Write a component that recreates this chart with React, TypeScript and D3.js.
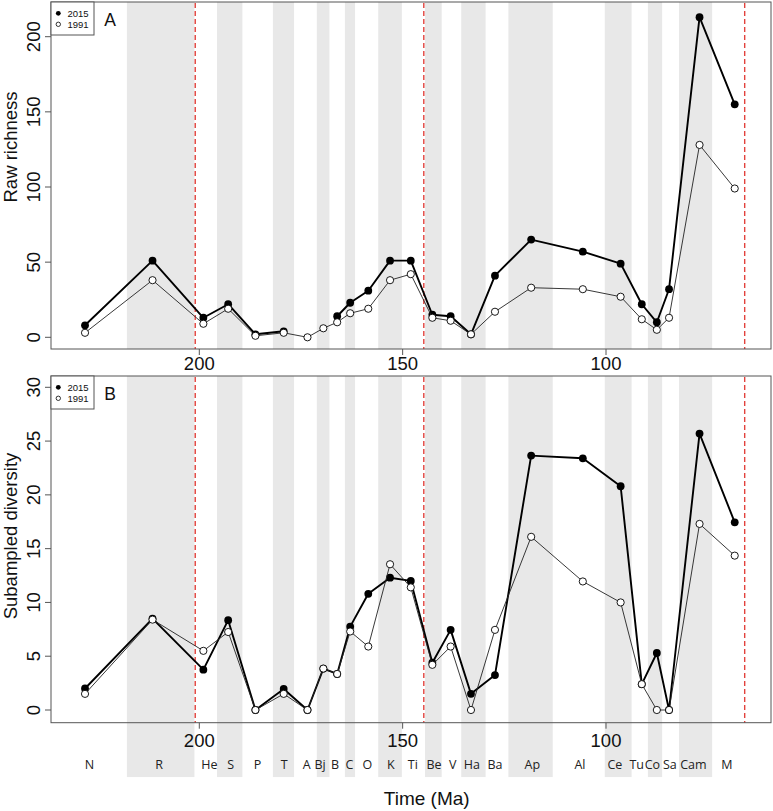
import React from 'react';
import * as d3 from 'd3';

const stages = ['N', 'R', 'He', 'S', 'P', 'T', 'A', 'Bj', 'B', 'C', 'O', 'K', 'Ti', 'Be', 'V', 'Ha', 'Ba', 'Ap', 'Al', 'Ce', 'Tu', 'Co', 'Sa', 'Cam', 'M'];
// age (Ma) at which each stage's data point is plotted
const pointAges = [228.1, 211.5, 199.0, 192.9, 186.2, 179.25, 173.4, 169.5, 166.1, 162.9, 158.45, 153.1, 148.0, 142.7, 138.2, 133.2, 127.3, 118.4, 105.7, 96.4, 91.2, 87.5, 84.5, 77.0, 68.35];
// age (Ma) at which each stage label is written
const labelAges = [227.0, 209.9, 197.5, 192.3, 185.7, 179.1, 173.6, 170.3, 166.6, 163.1, 158.7, 152.9, 147.5, 142.3, 137.7, 133.0, 127.3, 118.1, 106.4, 97.8, 92.45, 88.6, 84.3, 78.5, 70.3];
// boundaries between consecutive stages (Ma)
const stageBounds = [217.8, 201.2, 195.65, 189.4, 181.9, 176.7, 171.1, 168.0, 164.2, 161.7, 156.0, 150.2, 144.5, 140.4, 135.6, 129.6, 124.0, 113.1, 100.3, 93.7, 89.7, 86.2, 82.05, 73.9];
// mass-extinction boundaries (Ma)
const extinctionAges = [201.0, 144.8, 65.9];

const raw2015 = [8, 51, 13, 22, 2, 4, null, null, 14, 23, 31, 51, 51, 15, 14, 2, 41, 65, 57, 49, 22, 10, 32, 213, 155];
const raw1991 = [3, 38, 9, 19, 1, 3, 0, 6, 10, 16, 19, 38, 42, 13, 11, 2, 17, 33, 32, 27, 12, 5, 13, 128, 99];
const sub2015 = [2.0, 8.5, 3.75, 8.35, 0, 1.95, 0, 3.85, 3.35, 7.75, 10.8, 12.3, 12.0, 4.4, 7.45, 1.5, 3.25, 23.65, 23.4, 20.8, 2.4, 5.3, 0, 25.7, 17.45];
const sub1991 = [1.5, 8.4, 5.5, 7.25, 0, 1.5, 0, 3.85, 3.35, 7.3, 5.9, 13.55, 11.4, 4.2, 5.9, 0, 7.45, 16.1, 11.95, 10.0, 2.4, 0, 0, 17.3, 14.35];

const rawTicks = [0, 50, 100, 150, 200];
const subTicks = [0, 5, 10, 15, 20, 25, 30];
const timeTicks = [200, 150, 100];
const seriesNames = ['2015', '1991'];

const W = 773;
const H = 811;
const LEFT = 51;
const RIGHT = 771;
const FONT = '"Liberation Sans", Arial, Helvetica, sans-serif';
const BAND = '#e8e8e8';
const RED = '#e2423d';
const BOX = '#555';

const x = d3.scaleLinear().domain([200, 100]).range([199.3, 606]);

type PanelProps = {
  top: number;
  bottom: number;
  bandBottom: number;
  y: d3.ScaleLinear<number, number>;
  ticks: number[];
  s2015: (number | null)[];
  s1991: (number | null)[];
  title: string;
  titleY: number;
  letter: string;
  tickLabelBaseline: number;
};

function Panel(p: PanelProps) {
  const pts = (arr: (number | null)[]) => arr.map((v, i) => ({ t: pointAges[i], v }));
  const line = d3
    .line<{ t: number; v: number | null }>()
    .defined((d) => d.v != null)
    .x((d) => x(d.t))
    .y((d) => p.y(d.v as number));
  const d15 = pts(p.s2015);
  const d91 = pts(p.s1991);
  const clipId = 'clip' + p.letter;
  return (
    <g>
      <defs>
        <clipPath id={clipId}>
          <rect x={LEFT} y={p.top} width={RIGHT - LEFT} height={p.bandBottom - p.top} />
        </clipPath>
      </defs>
      <g clipPath={`url(#${clipId})`}>
        {stages.map((s, i) =>
          i % 2 === 1 ? (
            <rect
              key={s}
              x={x(stageBounds[i - 1])}
              y={p.top}
              width={x(stageBounds[i]) - x(stageBounds[i - 1])}
              height={p.bandBottom - p.top}
              fill={BAND}
            />
          ) : null
        )}
      </g>
      {extinctionAges.map((a) => (
        <line key={a} x1={x(a)} x2={x(a)} y1={p.top + 1} y2={p.bottom} stroke={RED} strokeWidth={1.4} strokeDasharray="5,3" />
      ))}
      {/* 2015 series */}
      <path d={line(d15) || ''} fill="none" stroke="#000" strokeWidth={1.9} strokeLinejoin="round" />
      {d15.filter((d) => d.v != null).map((d, i) => (
        <circle key={'f' + i} cx={x(d.t)} cy={p.y(d.v as number)} r={3.9} fill="#000" />
      ))}
      {/* 1991 series */}
      <path d={line(d91) || ''} fill="none" stroke="#222" strokeWidth={0.9} strokeLinejoin="round" />
      {d91.filter((d) => d.v != null).map((d, i) => (
        <circle key={'o' + i} cx={x(d.t)} cy={p.y(d.v as number)} r={3.6} fill="#fff" stroke="#000" strokeWidth={0.9} />
      ))}
      {/* box */}
      <rect x={LEFT} y={p.top} width={RIGHT - LEFT} height={p.bottom - p.top} fill="none" stroke={BOX} strokeWidth={1} />
      {/* y axis */}
      {p.ticks.map((t) => (
        <g key={t}>
          <line x1={LEFT - 6} x2={LEFT} y1={p.y(t)} y2={p.y(t)} stroke={BOX} strokeWidth={1} />
          <text
            transform={`translate(39.5,${p.y(t)}) rotate(-90)`}
            textAnchor="middle"
            fontFamily={FONT}
            fontSize={18.5}
            fill="#111"
          >
            {t}
          </text>
        </g>
      ))}
      <text transform={`translate(16.5,${p.titleY}) rotate(-90)`} textAnchor="middle" fontFamily={FONT} fontSize={18.5} fill="#111">
        {p.title}
      </text>
      {/* x axis */}
      {timeTicks.map((t) => (
        <g key={t}>
          <line x1={x(t)} x2={x(t)} y1={p.bottom} y2={p.bottom + 6} stroke={BOX} strokeWidth={1} />
          <text x={x(t)} y={p.tickLabelBaseline} textAnchor="middle" fontFamily={FONT} fontSize={18.5} fill="#111">
            {t}
          </text>
        </g>
      ))}
      {/* legend */}
      <rect x={LEFT} y={p.top} width={43} height={33} fill="#fff" stroke={BOX} strokeWidth={1} />
      <circle cx={58.3} cy={p.top + 11.3} r={2.4} fill="#000" />
      <circle cx={58.3} cy={p.top + 22.3} r={2.2} fill="#fff" stroke="#000" strokeWidth={0.8} />
      <text x={67.5} y={p.top + 14.8} fontFamily={FONT} fontSize={9.5} fill="#111">
        {seriesNames[0]}
      </text>
      <text x={67.5} y={p.top + 25.8} fontFamily={FONT} fontSize={9.5} fill="#111">
        {seriesNames[1]}
      </text>
      <text x={110} y={p.top + 24} textAnchor="middle" fontFamily={FONT} fontSize={17.5} fill="#111">
        {p.letter}
      </text>
    </g>
  );
}

export default function App() {
  const yRaw = d3.scaleLinear().domain([0, 200]).range([337.3, 36.7]);
  const ySub = d3.scaleLinear().domain([0, 30]).range([710, 387.3]);
  return (
    <svg width={W} height={H} style={{ position: 'absolute', left: 0, top: 0, background: '#fff' }}>
      <rect x={0} y={0} width={W} height={H} fill="#fff" />
      <Panel
        top={2}
        bottom={349}
        bandBottom={349}
        y={yRaw}
        ticks={rawTicks}
        s2015={raw2015}
        s1991={raw1991}
        title="Raw richness"
        titleY={147}
        letter="A"
        tickLabelBaseline={370}
      />
      <Panel
        top={376}
        bottom={722.7}
        bandBottom={777.3}
        y={ySub}
        ticks={subTicks}
        s2015={sub2015}
        s1991={sub1991}
        title="Subampled diversity"
        titleY={536}
        letter="B"
        tickLabelBaseline={746.5}
      />
      {stages.map((s, i) => (
        <text
          key={s}
          x={x(labelAges[i])}
          y={769}
          textAnchor="middle"
          fontFamily='"Open Sans", "Noto Sans", sans-serif'
          fontSize={12.5}
          fill="#222"
        >
          {s}
        </text>
      ))}
      <text x={426.7} y={805} textAnchor="middle" fontFamily={FONT} fontSize={19} fill="#111">
        Time (Ma)
      </text>
    </svg>
  );
}
